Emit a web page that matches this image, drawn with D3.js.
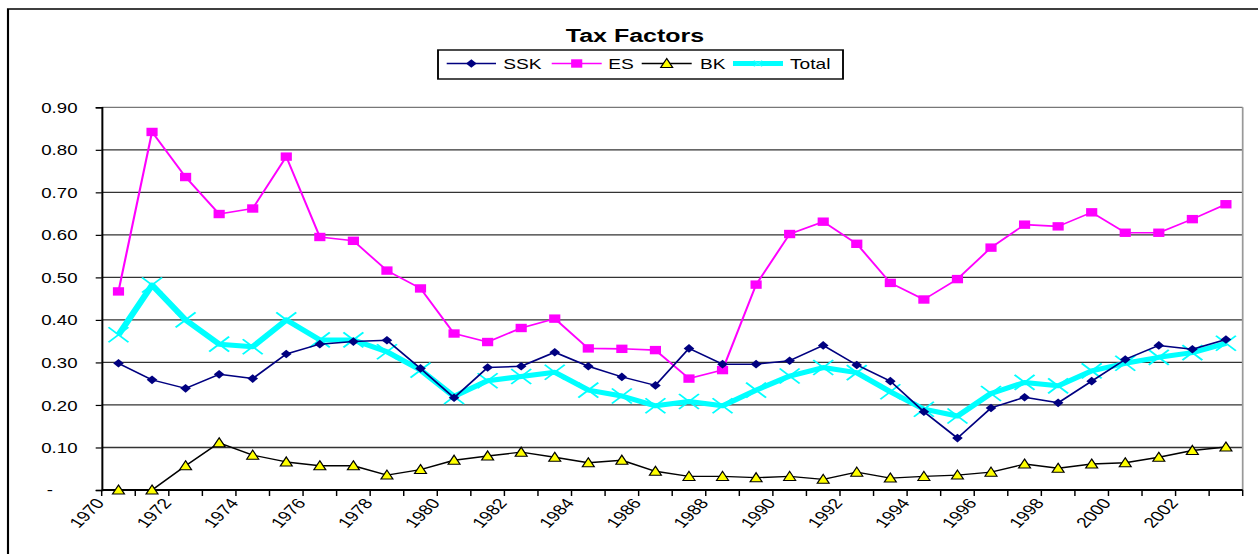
<!DOCTYPE html>
<html>
<head>
<meta charset="utf-8">
<title>Tax Factors</title>
<script src="https://d3js.org/d3.v7.min.js"></script>
<style>
  body { margin: 0; background: #fff; }
  svg { display: block; }
  text { font-family: Arial, "Liberation Sans", sans-serif; fill: #000; }
</style>
</head>
<body>
<script>
// chart data
const years = [1970, 1971, 1972, 1973, 1974, 1975, 1976, 1977, 1978, 1979,
  1980, 1981, 1982, 1983, 1984, 1985, 1986, 1987, 1988, 1989,
  1990, 1991, 1992, 1993, 1994, 1995, 1996, 1997, 1998, 1999,
  2000, 2001, 2002, 2003];
const ssk = [0.298, 0.259, 0.239, 0.272, 0.262, 0.320, 0.343, 0.349, 0.352, 0.286,
  0.217, 0.288, 0.291, 0.324, 0.291, 0.266, 0.246, 0.333, 0.296, 0.296,
  0.304, 0.340, 0.294, 0.256, 0.184, 0.122, 0.193, 0.218, 0.205, 0.256,
  0.307, 0.340, 0.331, 0.354];
const es = [0.467, 0.842, 0.736, 0.649, 0.662, 0.784, 0.595, 0.586, 0.516, 0.474,
  0.368, 0.348, 0.381, 0.403, 0.333, 0.332, 0.329, 0.262, 0.282, 0.483,
  0.602, 0.631, 0.579, 0.487, 0.448, 0.496, 0.570, 0.624, 0.620, 0.653,
  0.605, 0.605, 0.637, 0.672];
const bk = [0.000, 0.000, 0.057, 0.111, 0.082, 0.066, 0.057, 0.057, 0.035, 0.048,
  0.070, 0.080, 0.089, 0.077, 0.064, 0.070, 0.044, 0.032, 0.032, 0.029,
  0.032, 0.025, 0.042, 0.028, 0.032, 0.035, 0.042, 0.061, 0.051, 0.061,
  0.064, 0.077, 0.093, 0.101];
const total = [0.365, 0.482, 0.400, 0.343, 0.337, 0.400, 0.353, 0.353, 0.325, 0.282,
  0.220, 0.257, 0.267, 0.277, 0.235, 0.221, 0.198, 0.208, 0.198, 0.235,
  0.268, 0.288, 0.276, 0.231, 0.190, 0.174, 0.227, 0.253, 0.245, 0.280,
  0.298, 0.312, 0.323, 0.345];
const yTicks = [0, 0.1, 0.2, 0.3, 0.4, 0.5, 0.6, 0.7, 0.8, 0.9];
const xLabels = [1970, 1972, 1974, 1976, 1978, 1980, 1982, 1984, 1986, 1988,
  1990, 1992, 1994, 1996, 1998, 2000, 2002];
const seriesNames = ['SSK', 'ES', 'BK', 'Total'];

// the picture is stretched sideways, so draw in a narrow space and stretch it
const W = 1258, H = 554, sx = 1.33;
const VW = W / sx;
const plotLeft = 101.7 / sx, plotRight = 1242.7 / sx, plotTop = 107.3, plotBottom = 490;

const svg = d3.select('body').append('svg')
  .attr('width', W)
  .attr('height', H)
  .attr('viewBox', `0 0 ${VW} ${H}`)
  .attr('preserveAspectRatio', 'none');

const x = d3.scaleBand().domain(years).range([plotLeft, plotRight]).padding(0);
const y = d3.scaleLinear().domain([0, 0.9]).range([plotBottom, plotTop]);
const cx = d => x(d) + x.bandwidth() / 2;

// outer frame (only top and left are in view)
svg.append('path')
  .attr('d', `M${8 / sx},${H + 2} V9 H${VW + 2}`)
  .attr('fill', 'none').attr('stroke', '#000').attr('stroke-width', 1.6);

// gridlines
svg.append('g').selectAll('line')
  .data(yTicks.filter(d => d > 0))
  .join('line')
  .attr('x1', plotLeft).attr('x2', plotRight)
  .attr('y1', d => y(d)).attr('y2', d => y(d))
  .attr('stroke', d => d === 0.9 ? '#777' : '#333')
  .attr('stroke-width', 1.3);

// right edge of plot area
svg.append('line')
  .attr('x1', plotRight).attr('x2', plotRight).attr('y1', plotTop).attr('y2', plotBottom)
  .attr('stroke', '#999').attr('stroke-width', 1.3);

// y axis
const yAxis = svg.append('g').attr('transform', `translate(${plotLeft},0)`)
  .call(d3.axisLeft(y).tickValues(yTicks).tickSize(6 / sx).tickPadding(0)
    .tickFormat(d => d === 0 ? '' : d3.format('.2f')(d)));
yAxis.select('.domain').attr('stroke', '#000').attr('stroke-width', 1.5);
yAxis.selectAll('.tick line').attr('stroke', '#000').attr('stroke-width', 1.2);
yAxis.selectAll('.tick text')
  .attr('x', -(plotLeft - 77.5 / sx))
  .attr('dy', '0.36em')
  .style('font-size', '14px').style('font-family', 'Arial, "Liberation Sans", sans-serif')
  .attr('fill', '#000');
svg.append('text').attr('x', 53 / sx).attr('y', y(0)).attr('dy', '0.36em')
  .attr('text-anchor', 'end').style('font-size', '14px').text('-');

// x axis: ticks between categories
const xAxis = svg.append('g').attr('transform', `translate(0,${plotBottom})`);
xAxis.append('line').attr('x1', plotLeft).attr('x2', plotRight)
  .attr('stroke', '#000').attr('stroke-width', 2);
xAxis.selectAll('line.tk')
  .data(years.concat(['end']))
  .join('line').attr('class', 'tk')
  .attr('x1', d => d === 'end' ? plotRight : x(d))
  .attr('x2', d => d === 'end' ? plotRight : x(d))
  .attr('y1', 0).attr('y2', 6)
  .attr('stroke', '#000').attr('stroke-width', 1.1);
xAxis.selectAll('text')
  .data(xLabels)
  .join('text')
  .attr('text-anchor', 'end')
  .attr('transform', d => `translate(${cx(d) - 10},13.4) rotate(-52)`)
  .style('font-size', '14.5px')
  .text(d => d);

// series
const line = d3.line().x((d, i) => cx(years[i])).y(d => y(d));

function drawLine(data, color, width) {
  svg.append('path').datum(data)
    .attr('d', line)
    .attr('fill', 'none').attr('stroke', color).attr('stroke-width', width)
    .attr('stroke-linejoin', 'round');
}

const markers = {
  diamond: (g, c) => g.append('path').attr('d', 'M0,-4.3L4,0L0,4.3L-4,0Z').attr('fill', c),
  square: (g, c) => g.append('rect').attr('x', -4.2).attr('y', -4.2)
    .attr('width', 8.4).attr('height', 8.4).attr('fill', c),
  triangle: (g, c) => g.append('path').attr('d', 'M0,-5L4.5,4L-4.5,4Z')
    .attr('fill', c).attr('stroke', '#000').attr('stroke-width', 1),
  cross: (g, c) => g.append('path').attr('d', 'M-7.5,-7.5L7.5,7.5M-7.5,7.5L7.5,-7.5')
    .attr('fill', 'none').attr('stroke', c).attr('stroke-width', 1.6)
};

function drawMarkers(data, kind, color) {
  svg.append('g').selectAll('g')
    .data(data)
    .join('g')
    .attr('transform', (d, i) => `translate(${cx(years[i])},${y(d)})`)
    .each(function () { markers[kind](d3.select(this), color); });
}

drawLine(bk, '#000', 1.4);
drawMarkers(bk, 'triangle', '#ffff00');
drawLine(es, '#ff00ff', 1.6);
drawMarkers(es, 'square', '#ff00ff');
drawLine(total, '#00ffff', 5);
drawMarkers(total, 'cross', '#00ffff');
drawLine(ssk, '#000080', 1.5);
drawMarkers(ssk, 'diamond', '#000080');

// title
svg.append('text')
  .attr('x', 635 / sx).attr('y', 42.3)
  .attr('text-anchor', 'middle')
  .style('font-size', '18.8px').style('font-weight', 'bold')
  .text('Tax Factors');

// legend
const legend = svg.append('g');
legend.append('rect')
  .attr('x', 438 / sx).attr('y', 50)
  .attr('width', (843 - 438) / sx).attr('height', 29)
  .attr('fill', '#fff').attr('stroke', '#000').attr('stroke-width', 1.4);

const legendItems = [
  { name: seriesNames[0], color: '#000080', width: 1.5, kind: 'diamond', mcolor: '#000080', x0: 446.7, x1: 496, tx: 503.3 },
  { name: seriesNames[1], color: '#ff00ff', width: 1.6, kind: 'square', mcolor: '#ff00ff', x0: 551.7, x1: 601.7, tx: 608.3 },
  { name: seriesNames[2], color: '#000', width: 1.4, kind: 'triangle', mcolor: '#ffff00', x0: 641.7, x1: 691.7, tx: 700 },
  { name: seriesNames[3], color: '#00ffff', width: 5, kind: 'cross', mcolor: '#00ffff', x0: 733, x1: 783, tx: 790 }
];
const ly = 63.5;
legendItems.forEach(it => {
  legend.append('line')
    .attr('x1', it.x0 / sx).attr('x2', it.x1 / sx).attr('y1', ly).attr('y2', ly)
    .attr('stroke', it.color).attr('stroke-width', it.width);
  const g = legend.append('g')
    .attr('transform', `translate(${(it.x0 + it.x1) / 2 / sx},${ly})`);
  if (it.kind === 'cross') {
    g.append('path').attr('d', 'M-3,-3L3,3M-3,3L3,-3')
      .attr('stroke', '#33ffff').attr('stroke-width', 1);
  } else {
    markers[it.kind](g, it.mcolor);
  }
  legend.append('text')
    .attr('x', it.tx / sx).attr('y', ly).attr('dy', '0.36em')
    .style('font-size', '14.4px')
    .text(it.name);
});
</script>
</body>
</html>
